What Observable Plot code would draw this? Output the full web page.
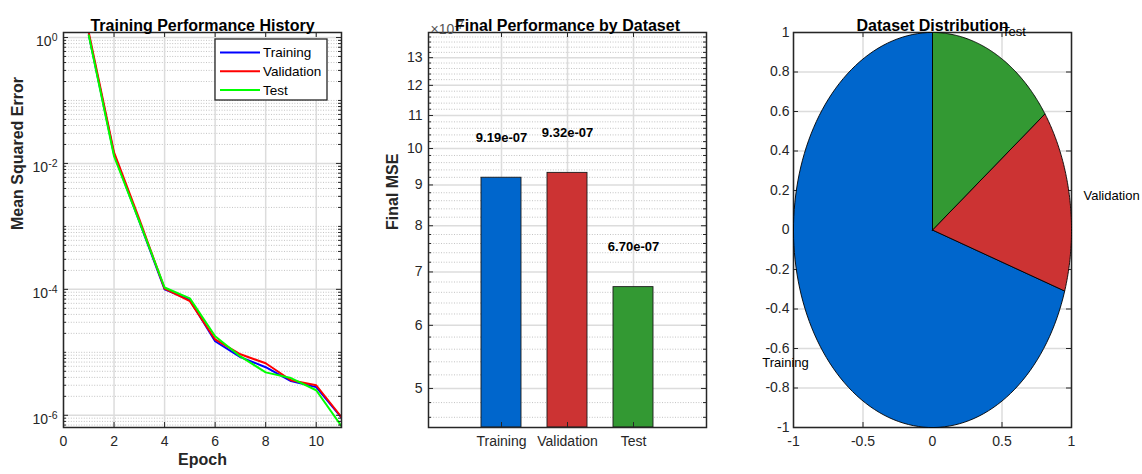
<!DOCTYPE html>
<html><head><meta charset="utf-8">
<script src="https://cdn.jsdelivr.net/npm/d3@7"></script>
<script src="https://cdn.jsdelivr.net/npm/@observablehq/plot@0.6"></script>
<style>
body{margin:0;background:#fff;}
#fig{position:relative;width:1142px;height:474px;background:#fff;overflow:hidden;}
#fig svg{position:absolute;top:0;overflow:visible;}
</style></head><body><div id="fig"></div>
<script>
// ---------- data ----------
const epochs = [1, 2, 3, 4, 5, 6, 7, 8, 9, 10, 11];
const trainMSE = [1.1, 1.4e-2, 1.2e-3, 1.0e-4, 6.8e-5, 1.5e-5, 8.4e-6, 5.8e-6, 3.5e-6, 2.8e-6, 9.19e-7];
const valMSE   = [1.2, 1.5e-2, 1.3e-3, 1.03e-4, 6.5e-5, 1.6e-5, 9.3e-6, 6.7e-6, 3.6e-6, 3.0e-6, 9.32e-7];
const testMSE  = [1.08, 1.3e-2, 1.2e-3, 1.07e-4, 7.2e-5, 1.8e-5, 8.6e-6, 4.8e-6, 3.9e-6, 2.5e-6, 6.70e-7];
const seriesNames = ["Training", "Validation", "Test"];
const seriesColors = ["#0000ff", "#ff0000", "#00ff00"];
const epochTicks = [0, 2, 4, 6, 8, 10];
const mseTicks = [1, 1e-2, 1e-4, 1e-6];
const mseTickLabels = ["10^0", "10^-2", "10^-4", "10^-6"];

const datasets = ["Training", "Validation", "Test"];
const finalMSE = [9.19e-7, 9.32e-7, 6.70e-7];
const finalLabels = ["9.19e-07", "9.32e-07", "6.70e-07"];
const barColors = ["#0066cc", "#cc3333", "#339933"];
const finalTicks = [5, 6, 7, 8, 9, 10, 11, 12, 13];

const shares = [70, 15, 15];
const pieLabels = ["Training", "Validation", "Test"];
const pieXTicks = [-1, -0.5, 0, 0.5, 1];
const pieYTicks = [-1, -0.8, -0.6, -0.4, -0.2, 0, 0.2, 0.4, 0.6, 0.8, 1];

// ---------- common ----------
const FONT = '"Liberation Sans", Arial, Helvetica, sans-serif';
const AX = "#262626";
const GRID = "#dcdcdc";
const HT = 474, MT = 32, MB = 47;
const FH = HT - MT - MB;
const fig = document.getElementById("fig");
const NS = "http://www.w3.org/2000/svg";
const baseStyle = {fontFamily: FONT, fontSize: "14px", color: AX, background: "transparent", overflow: "visible"};

function boxTicks(xVals, yVals, FW, len) {
  const s = {stroke: AX, strokeWidth: 1};
  const m = [];
  if (xVals) {
    m.push(Plot.tickX(xVals, {x: d => d, insetTop: FH - len, ...s}));
    m.push(Plot.tickX(xVals, {x: d => d, insetBottom: FH - len, ...s}));
  }
  if (yVals) {
    m.push(Plot.tickY(yVals, {y: d => d, insetRight: FW - len, ...s}));
    m.push(Plot.tickY(yVals, {y: d => d, insetLeft: FW - len, ...s}));
  }
  return m;
}
function supify(svg, shift) {
  svg.querySelectorAll("text").forEach(t => {
    const s = t.textContent; const i = s.indexOf("^"); if (i < 0) return;
    t.textContent = "";
    const b = document.createElementNS(NS, "tspan"); b.textContent = s.slice(0, i); t.appendChild(b);
    const p = document.createElementNS(NS, "tspan"); p.setAttribute("dy", "-0.5em"); p.setAttribute("font-size", "10.5px");
    p.textContent = s.slice(i + 1); t.appendChild(p);
    if (shift) t.setAttribute("transform", ((t.getAttribute("transform") || "") + ` translate(0,${shift})`).trim());
  });
}
function place(svg, left) { svg.style.left = left + "px"; svg.style.top = "0px"; fig.appendChild(svg); }
function titleMark(s) { return Plot.text([s], {frameAnchor: "top", text: d => d, dy: -13, fontWeight: "bold", fontSize: 16, fill: "#000"}); }
function yLabelMark(s, dx) { return Plot.text([s], {frameAnchor: "left", text: d => d, rotate: -90, dx, fontWeight: "bold", fontSize: 16, fill: AX}); }

// ---------- panel 1 : training history ----------
{
  const W = 380, ML = 63, MR = 39, FW = W - ML - MR;
  const rows = [];
  [trainMSE, valMSE, testMSE].forEach((arr, s) => arr.forEach((v, i) => rows.push({epoch: epochs[i], mse: v, series: seriesNames[s]})));
  const yDom = [6.4e-7, 1.2];
  const minor = [];
  for (let e = -7; e <= 0; e++) for (let k = 1; k <= 9; k++) {
    const v = k * Math.pow(10, e);
    if (v >= yDom[0] && v <= yDom[1] && !mseTicks.some(t => Math.abs(t - v) / t < 1e-9)) minor.push(v);
  }
  const svg = Plot.plot({
    width: W, height: HT, marginLeft: ML, marginRight: MR, marginTop: MT, marginBottom: MB,
    style: baseStyle,
    x: {domain: [0, 11]},
    y: {type: "log", domain: yDom},
    color: {domain: seriesNames, range: seriesColors},
    marks: [
      Plot.ruleY(minor, {y: d => d, stroke: "#b4b4b4", strokeWidth: 0.8, strokeDasharray: "1,1.6"}),
      Plot.ruleX(epochTicks, {x: d => d, stroke: GRID, strokeWidth: 1.5}),
      Plot.ruleY(mseTicks, {y: d => d, stroke: GRID, strokeWidth: 1.5}),
      Plot.line(rows, {x: "epoch", y: "mse", z: "series", stroke: "series", strokeWidth: 2, clip: true}),
      ...boxTicks(epochTicks, mseTicks, FW, 5),
      ...boxTicks(null, minor, FW, 3),
      Plot.frame({stroke: AX, strokeWidth: 1.5}),
      Plot.axisX({ticks: epochTicks, tickSize: 0, tickPadding: 9, label: null}),
      Plot.axisY({ticks: mseTicks, tickSize: 0, tickPadding: 6, label: null, tickFormat: d => mseTickLabels[mseTicks.indexOf(d)]}),
      titleMark("Training Performance History"),
      Plot.text(["Epoch"], {frameAnchor: "bottom", text: d => d, dy: 37, fontWeight: "bold", fontSize: 16, fill: AX}),
      yLabelMark("Mean Squared Error", -46)
    ]
  });
  supify(svg, 4);
  // legend
  const lg = d3.select(svg).append("g").attr("text-anchor", "start");
  lg.append("rect").attr("x", 215).attr("y", 39).attr("width", 112).attr("height", 61)
    .attr("fill", "#fff").attr("stroke", AX).attr("stroke-width", 1.3);
  seriesNames.forEach((n, i) => {
    const y = 52.5 + i * 18.7;
    lg.append("line").attr("x1", 220).attr("x2", 260).attr("y1", y).attr("y2", y)
      .attr("stroke", seriesColors[i]).attr("stroke-width", 2);
    lg.append("text").attr("x", 263).attr("y", y).attr("dy", "0.35em").attr("text-anchor", "start")
      .attr("font-family", FONT).attr("font-size", "13.5px").attr("fill", "#000").text(n);
  });
  place(svg, 0);
}

// ---------- panel 2 : final performance ----------
{
  const W = 360, ML = 48, MR = 34, FW = W - ML - MR;
  const lo = d3.min(finalMSE) / 1.5, hi = d3.max(finalMSE) * 1.5;
  const major = finalTicks.map(v => v * 1e-7);
  const minor = d3.range(44, 140, 2).filter(v => v % 10 !== 0).map(v => v / 10 * 1e-7).filter(v => v >= lo && v <= hi);
  const idx = d3.range(datasets.length);
  const svg = Plot.plot({
    width: W, height: HT, marginLeft: ML, marginRight: MR, marginTop: MT, marginBottom: MB,
    style: baseStyle,
    x: {type: "band", domain: datasets, paddingInner: 0.394, paddingOuter: 0.803},
    y: {type: "log", domain: [lo, hi]},
    marks: [
      Plot.ruleY(minor, {y: d => d, stroke: "#b4b4b4", strokeWidth: 0.8, strokeDasharray: "1,1.6"}),
      Plot.ruleX(datasets, {x: d => d, stroke: GRID, strokeWidth: 1.5}),
      Plot.ruleY(major, {y: d => d, stroke: GRID, strokeWidth: 1.5}),
      Plot.barY(idx, {x: i => datasets[i], y1: lo, y2: i => finalMSE[i], fill: i => barColors[i], stroke: "#1a1a1a", strokeWidth: 0.9, clip: true}),
      ...boxTicks(datasets, major, FW, 5),
      ...boxTicks(null, minor, FW, 3),
      Plot.frame({stroke: AX, strokeWidth: 1.5}),
      Plot.axisX({tickSize: 0, tickPadding: 9, label: null}),
      Plot.axisY({ticks: major, tickSize: 0, tickPadding: 6, label: null, tickFormat: d => String(Math.round(d * 1e7))}),
      Plot.text(idx, {x: i => datasets[i], y: i => finalMSE[i] * 1.1, text: i => finalLabels[i], lineAnchor: "bottom", dy: -3, fontWeight: "bold", fontSize: 13, fill: "#000"}),
      Plot.text(["×10^-7"], {frameAnchor: "top-left", text: d => d, textAnchor: "start", dx: 2, dy: -8, fill: "#555", fontSize: 14}),
      titleMark("Final Performance by Dataset"),
      yLabelMark("Final MSE", -36)
    ]
  });
  supify(svg, 0);
  place(svg, 380);
}

// ---------- panel 3 : pie ----------
{
  const W = 402, ML = 53, MR = 71, FW = W - ML - MR;
  const total = d3.sum(shares);
  let a0 = Math.PI / 2;
  const slices = shares.map((s, i) => {
    const a1 = a0 + s / total * 2 * Math.PI;
    const pts = [[0, 0]];
    const n = 120;
    for (let k = 0; k <= n; k++) { const a = a0 + (a1 - a0) * k / n; pts.push([Math.cos(a), Math.sin(a)]); }
    pts.push([0, 0]);
    const mid = (a0 + a1) / 2;
    a0 = a1;
    return {pts, mid, label: pieLabels[i], color: barColors[i]};
  });
  const sliceMarks = slices.map(s => Plot.line(s.pts, {x: d => d[0], y: d => d[1], fill: s.color, stroke: "#000", strokeWidth: 0.9}));
  const labelMarks = slices.map(s => {
    const lx = 1.1 * Math.cos(s.mid), ly = 1.1 * Math.sin(s.mid);
    const ta = lx < 0 ? "end" : "start";
    const la = Math.abs(ly) < 0.3 ? "middle" : (ly > 0 ? "bottom" : "top");
    return Plot.text([s], {x: () => lx, y: () => ly, text: d => d.label, textAnchor: ta, lineAnchor: la, fontSize: 13, fill: "#000"});
  });
  const svg = Plot.plot({
    width: W, height: HT, marginLeft: ML, marginRight: MR, marginTop: MT, marginBottom: MB,
    style: baseStyle,
    x: {domain: [-1, 1]},
    y: {domain: [-1, 1]},
    marks: [
      Plot.ruleX(pieXTicks, {x: d => d, stroke: GRID, strokeWidth: 1.5}),
      Plot.ruleY(pieYTicks, {y: d => d, stroke: GRID, strokeWidth: 1.5}),
      ...boxTicks(pieXTicks, pieYTicks, FW, 5),
      Plot.frame({stroke: AX, strokeWidth: 1.5}),
      ...sliceMarks,
      Plot.axisX({ticks: pieXTicks, tickSize: 0, tickPadding: 9, label: null, tickFormat: d => String(d)}),
      Plot.axisY({ticks: pieYTicks, tickSize: 0, tickPadding: 4, label: null, tickFormat: d => String(d)}),
      titleMark("Dataset Distribution"),
      ...labelMarks
    ]
  });
  place(svg, 740);
}
</script>
</body></html>
